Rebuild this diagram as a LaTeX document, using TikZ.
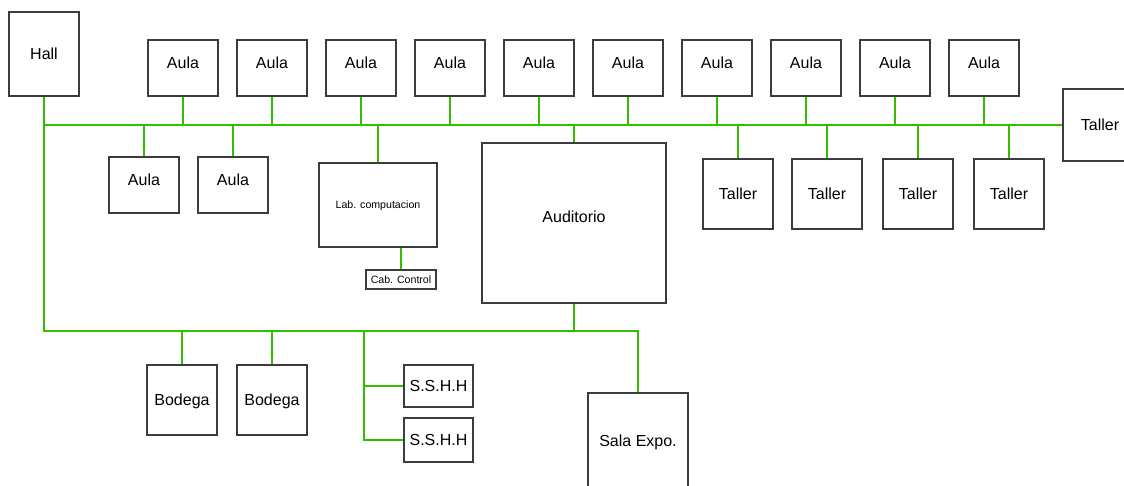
\documentclass[tikz,border=0pt]{standalone}
\usepackage{fontspec}
\setmainfont{Liberation Sans}
\definecolor{linegreen}{RGB}{51,190,0}
\definecolor{boxgray}{RGB}{60,60,60}
\begin{document}
\begin{tikzpicture}[x=1pt, y=-1pt,
room/.style={draw=boxgray, line width=1.2pt, inner sep=0pt, font=\fontsize{16}{18}\selectfont, text height=11.6pt, text depth=0pt},
small/.style={room, font=\fontsize{10.6}{12}\selectfont, text height=7.7pt},
link/.style={draw=linegreen, line width=1.8pt}
]
\useasboundingbox (0,0) rectangle (1124,486);
\coordinate (bus) at (44,125);
\coordinate (low) at (638,331);
\coordinate (st) at (364,331);
\node[room, minimum width=70pt, minimum height=84pt] (hall) at (44,54) {Hall};
\node[room, minimum width=74pt, minimum height=72pt] (tr) at (1100,125) {Taller};
\node[room, minimum width=100pt, minimum height=95pt] (sala) at (638,440.5) {Sala Expo.};
\draw[link] (bus) -- (tr.west);
\draw[link] (hall.south) |- (low) -| (sala.north);
\foreach \i in {0,...,9} {\node[room, text depth=10pt, minimum width=70pt, minimum height=56pt] (a\i) at (183+89*\i,68) {Aula};\draw[link] (a\i.south) -- (a\i.south |- bus);}
\foreach \x [count=\i] in {144,233} {\node[room, text depth=10pt, minimum width=70pt, minimum height=56pt] (b\i) at (\x,185) {Aula};\draw[link] (b\i.north) -- (b\i.north |- bus);}
\foreach \x [count=\i] in {738,827,918,1009} {\node[room, minimum width=70pt, minimum height=70pt] (t\i) at (\x,194) {Taller};\draw[link] (t\i.north) -- (t\i.north |- bus);}
\node[small, minimum width=118pt, minimum height=84pt] (lab) at (378,205) {Lab. computacion};
\node[small, minimum width=70pt, minimum height=19pt] (cab) at (401,279.5) {Cab. Control};
\draw[link] (lab.north) -- (lab.north |- bus);
\draw[link] (cab.north) -- (cab.north |- lab.south);
\node[room, text depth=12pt, minimum width=184pt, minimum height=160pt] (aud) at (574,223) {Auditorio};
\draw[link] (aud.north) -- (aud.north |- bus);
\draw[link] (aud.south) -- (aud.south |- low);
\foreach \x [count=\i] in {182,272} {\node[room, minimum width=70pt, minimum height=70pt] (bod\i) at (\x,400) {Bodega};\draw[link] (bod\i.north) -- (bod\i.north |- low);}
\node[room, minimum width=69pt, minimum height=42pt] (ss1) at (438.5,386) {S.S.H.H};
\node[room, minimum width=69pt, minimum height=44pt] (ss2) at (438.5,440) {S.S.H.H};
\draw[link] (st) |- (ss2.west);
\draw[link] (ss1.west) -- (ss1.west -| st);
\end{tikzpicture}
\end{document}
